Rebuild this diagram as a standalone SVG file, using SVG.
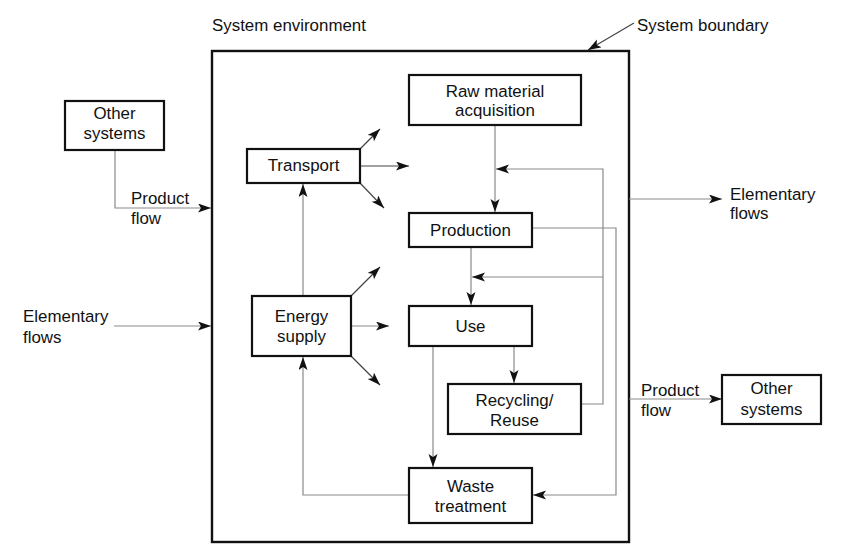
<svg xmlns="http://www.w3.org/2000/svg" width="850" height="557" viewBox="0 0 850 557">
<style>
text{font-family:"Liberation Sans",Arial,sans-serif;font-size:16.9px;fill:#111;}
.c{text-anchor:middle;}
.box{fill:#fff;stroke:#111;stroke-width:2.2;}
.ln{fill:none;stroke:#8a8a8a;stroke-width:1.2;}
.lnd{fill:none;stroke:#444;stroke-width:1.2;}
</style>
<defs>
<marker id="ah" markerUnits="userSpaceOnUse" markerWidth="14" markerHeight="10" refX="13" refY="4.5" orient="auto">
<path d="M0,0 L13,4.5 L0,9 L3,4.5 z" fill="#111"/>
</marker>
</defs>
<rect width="850" height="557" fill="#fff"/>

<g id="boundary">
<rect x="212" y="51" width="417" height="491" fill="none" stroke="#111" stroke-width="2.4"/>
<text x="212" y="31">System environment</text>
<text x="637" y="31">System boundary</text>
</g>

<g id="connectors">
<line class="lnd" x1="634" y1="23" x2="588" y2="50" marker-end="url(#ah)"/>
<polyline class="ln" points="115,150 115,208 211,208" marker-end="url(#ah)"/>
<line class="ln" x1="114" y1="326" x2="211" y2="326" marker-end="url(#ah)"/>
<line class="ln" x1="629" y1="199" x2="722" y2="199" marker-end="url(#ah)"/>
<line class="ln" x1="629" y1="399" x2="722" y2="399" marker-end="url(#ah)"/>
<line class="lnd" x1="360" y1="149" x2="380" y2="129" marker-end="url(#ah)"/>
<line class="lnd" x1="360" y1="166" x2="409" y2="166" marker-end="url(#ah)"/>
<line class="lnd" x1="360" y1="183" x2="384" y2="208" marker-end="url(#ah)"/>
<line class="lnd" x1="351" y1="296" x2="380" y2="267" marker-end="url(#ah)"/>
<line class="ln" x1="351" y1="326" x2="389" y2="326" marker-end="url(#ah)"/>
<line class="lnd" x1="351" y1="356" x2="380" y2="385" marker-end="url(#ah)"/>
<line class="ln" x1="303" y1="296" x2="303" y2="184" marker-end="url(#ah)"/>
<polyline class="ln" points="409,495 303,495 303,357" marker-end="url(#ah)"/>
<line class="ln" x1="495" y1="125" x2="495" y2="212" marker-end="url(#ah)"/>
<polyline class="ln" points="581,404 603,404 603,169 496,169" marker-end="url(#ah)"/>
<line class="ln" x1="603" y1="277" x2="472" y2="277" marker-end="url(#ah)"/>
<line class="ln" x1="471" y1="247" x2="471" y2="305" marker-end="url(#ah)"/>
<polyline class="ln" points="532,228 616,228 616,495 533,495" marker-end="url(#ah)"/>
<line class="ln" x1="514" y1="346" x2="514" y2="383" marker-end="url(#ah)"/>
<line class="ln" x1="433" y1="346" x2="433" y2="467" marker-end="url(#ah)"/>
</g>

<g id="labels">
<text x="131" y="204">Product</text>
<text x="131" y="224">flow</text>
<text x="23" y="322">Elementary</text>
<text x="23" y="343">flows</text>
<text x="730" y="200">Elementary</text>
<text x="730" y="219">flows</text>
<text x="641" y="396">Product</text>
<text x="641" y="416">flow</text>
</g>

<g id="other-left">
<rect class="box" x="65" y="101" width="99" height="49"/>
<text class="c" x="114.5" y="119">Other</text>
<text class="c" x="114.5" y="139">systems</text>
</g>
<g id="other-right">
<rect class="box" x="722" y="375" width="99" height="49"/>
<text class="c" x="771.5" y="394">Other</text>
<text class="c" x="771.5" y="415">systems</text>
</g>
<g id="raw">
<rect class="box" x="409" y="75" width="172" height="50"/>
<text class="c" x="495" y="97">Raw material</text>
<text class="c" x="495" y="116">acquisition</text>
</g>
<g id="transport">
<rect class="box" x="247" y="149" width="113" height="34"/>
<text class="c" x="303.5" y="171">Transport</text>
</g>
<g id="production">
<rect class="box" x="409" y="213" width="123" height="34"/>
<text class="c" x="470.5" y="236">Production</text>
</g>
<g id="energy">
<rect class="box" x="252" y="296" width="99" height="60"/>
<text class="c" x="301.5" y="322">Energy</text>
<text class="c" x="301.5" y="342">supply</text>
</g>
<g id="use">
<rect class="box" x="409" y="306" width="123" height="40"/>
<text class="c" x="470.5" y="332">Use</text>
</g>
<g id="recycling">
<rect class="box" x="448" y="384" width="133" height="50"/>
<text class="c" x="514.5" y="406">Recycling/</text>
<text class="c" x="514.5" y="426">Reuse</text>
</g>
<g id="waste">
<rect class="box" x="409" y="468" width="123" height="55"/>
<text class="c" x="470.5" y="492">Waste</text>
<text class="c" x="470.5" y="512">treatment</text>
</g>
</svg>
